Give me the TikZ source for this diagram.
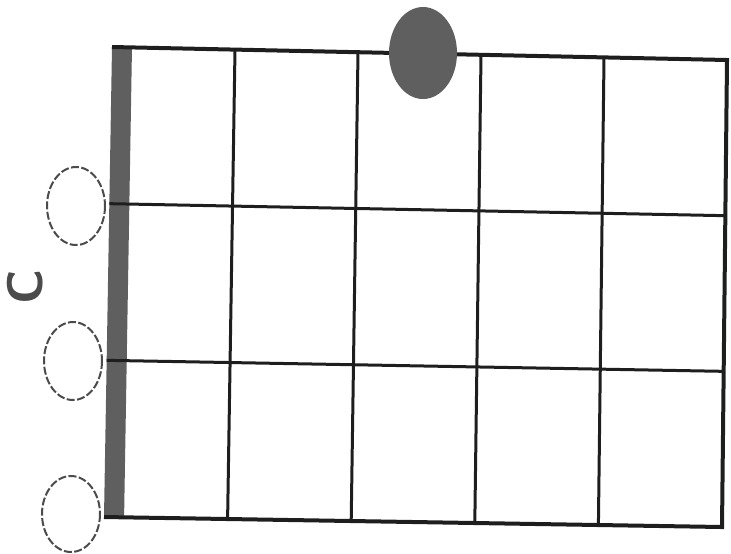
\documentclass[tikz,border=0pt]{standalone}
\usepackage{tikz}
\usetikzlibrary{
    calc
}
\definecolor{nutgray}{RGB}{95,95,95}
\definecolor{lineblack}{RGB}{30,30,30}

\begin{document}
\begin{tikzpicture}[x=0.5pt,y=-0.5pt]
\useasboundingbox (0,0) rectangle (731,553);
%\draw [help lines](0,0) grid (731,553);
\coordinate (TL) at (112,47);
\coordinate (TR) at (727,60);
\coordinate (BL) at (104,517);
\coordinate (BR) at (722,527);
% nut
\fill [nutgray] (TL) -- ($(TL)!0.0325!(TR)$) -- ($(BL)!0.0325!(BR)$) -- (BL) -- cycle;
% frets
\draw [-,line width=1.5pt,lineblack] ($(TL)!0.2!(TR)$) -- ($(BL)!0.2!(BR)$);
\draw [-,line width=1.5pt,lineblack] ($(TL)!0.4!(TR)$) -- ($(BL)!0.4!(BR)$);
\draw [-,line width=1.5pt,lineblack] ($(TL)!0.6!(TR)$) -- ($(BL)!0.6!(BR)$);
\draw [-,line width=1.5pt,lineblack] ($(TL)!0.8!(TR)$) -- ($(BL)!0.8!(BR)$);
% strings
\draw [-,line width=1.5pt,lineblack] ($(TL)!1/3!(BL)$) -- ($(TR)!1/3!(BR)$);
\draw [-,line width=1.5pt,lineblack] ($(TL)!2/3!(BL)$) -- ($(TR)!2/3!(BR)$);
% border
\draw [-,line width=2pt,lineblack] (TL) -- (TR) -- (BR) -- (BL);
% finger
\coordinate (F) at (423,53);
\fill [nutgray] (F) ellipse (34 and 46);
% open strings
\coordinate (O1) at (76,206);
\coordinate (O2) at (73,361);
\coordinate (O3) at (71,514);
\draw [line width=1pt,dash pattern=on 4pt off 1.2pt,lineblack!80] (O1) ellipse (29 and 39);
\draw [line width=1pt,dash pattern=on 4pt off 1.2pt,lineblack!80] (O2) ellipse (29 and 39);
\draw [line width=1pt,dash pattern=on 4pt off 1.2pt,lineblack!80] (O3) ellipse (29 and 38);
% chord name
\node [rotate=90,lineblack!80,font=\fontsize{25}{30}\sffamily\bfseries] (name) at (25,287) {C};
\end{tikzpicture}
\end{document}
